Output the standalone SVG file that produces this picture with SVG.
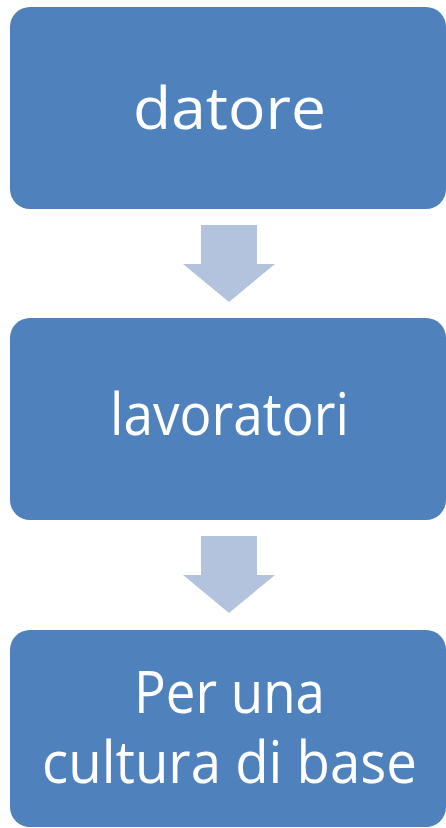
<svg xmlns="http://www.w3.org/2000/svg" width="446" height="828" viewBox="0 0 446 828">
<style>
.box{fill:#4F81BD}
.arr{fill:#B3C3DE}
.t{font-family:"Open Sans","Liberation Sans",sans-serif;font-size:58px;fill:#FFFFFF}
</style>
<rect width="446" height="828" fill="#FFFFFF"/>
<g id="connectors">
<polygon class="arr" points="201,225 257,225 257,264 275,264 229,302 183,264 201,264"/>
<polygon class="arr" points="201,536 257,536 257,575 275,575 229,613 183,575 201,575"/>
</g>
<g id="node1">
<rect class="box" x="10" y="7" width="436" height="202" rx="20"/>
<text class="t" x="133" y="129" textLength="193" lengthAdjust="spacingAndGlyphs">datore</text>
</g>
<g id="node2">
<rect class="box" x="10" y="318" width="436" height="202" rx="20"/>
<text class="t" x="110" y="435" textLength="239" lengthAdjust="spacingAndGlyphs">lavoratori</text>
</g>
<g id="node3">
<rect class="box" x="10" y="630" width="436" height="197" rx="20"/>
<text class="t" x="134" y="713" textLength="191" lengthAdjust="spacingAndGlyphs">Per una</text>
<text class="t" x="42" y="783" textLength="375" lengthAdjust="spacingAndGlyphs">cultura di base</text>
</g>
</svg>
